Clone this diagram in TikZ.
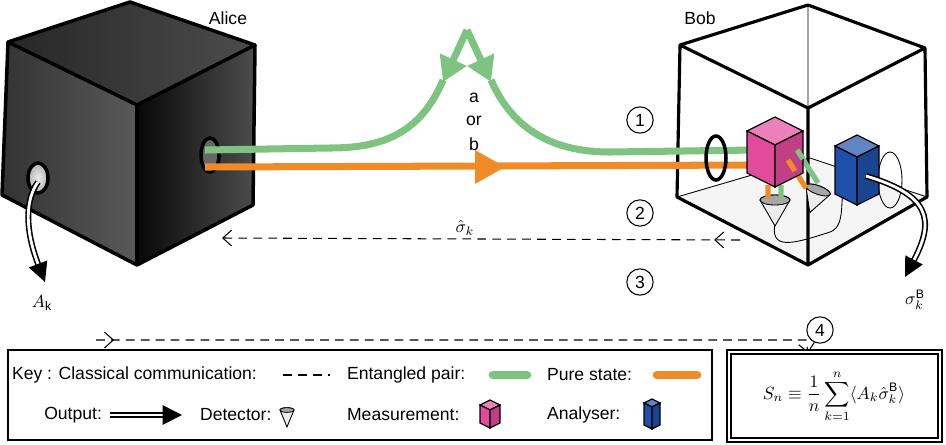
\documentclass[tikz,border=0pt]{standalone}
\usepackage{amsmath,amssymb}
\usepackage{fontspec}
\setsansfont{Liberation Sans}
\usetikzlibrary{arrows.meta,decorations.markings}
\definecolor{entg}{RGB}{126,196,128}
\definecolor{pureo}{RGB}{240,140,40}
\definecolor{pinkm}{RGB}{226,74,156}
\definecolor{bluea}{RGB}{30,80,170}
\newcommand{\isobox}[4]{%
  \begin{scope}[shift={#1}]
    \filldraw[fill=#4!70!white, draw=black, line width=0.7pt] (-#2,-#3/2) -- (0,-#3/2-#2/2) -- (#2,-#3/2) -- (0,-#3/2+#2/2) -- cycle;
    \filldraw[fill=#4, draw=black, line width=0.7pt] (-#2,-#3/2) -- (0,-#3/2+#2/2) -- (0,#3/2+#2/2) -- (-#2,#3/2) -- cycle;
    \filldraw[fill=#4!85!black, draw=black, line width=0.7pt] (#2,-#3/2) -- (0,-#3/2+#2/2) -- (0,#3/2+#2/2) -- (#2,#3/2) -- cycle;
  \end{scope}}
\newcommand{\conedet}[3]{%
  \begin{scope}[shift={#1}]
    \filldraw[fill=gray!15, draw=black, line width=0.5pt] (-#2,0) -- (0,#3) -- (#2,0) arc (0:-180:#2 and #2/3);
    \filldraw[fill=gray!70, draw=black, line width=0.5pt] (0,0) ellipse ({#2} and {#2/3});
  \end{scope}}
\tikzset{
  label/.style={font=\sffamily\fontsize{10}{12}\selectfont, inner sep=1pt},
  beamG/.style={line width=4pt, color=entg},
  beamO/.style={line width=4pt, color=pureo},
  classical/.style={dashed, line width=0.6pt, dash pattern=on 5pt off 3.5pt},
  output/.style={double=white, double distance=1.6pt, line width=0.9pt, -{Triangle[length=11pt,width=11pt]}},
  stepnum/.style={circle, draw, line width=0.6pt, minimum size=15pt, inner sep=0pt, font=\sffamily\fontsize{10}{12}\selectfont},
  tipmark/.style={postaction={decorate, decoration={markings, mark=at position #1 with {\arrow{Straight Barb[length=5pt,width=9pt]}}}}}
}
\begin{document}
\begin{tikzpicture}[x=0.02cm, y=-0.02cm]
  \useasboundingbox (0,0) rectangle (946,444);
  % Alice
  \shade[left color=black!80, right color=black!65] (8,42) -- (137,105) -- (137,265) -- (2,195) -- cycle;
  \shade[left color=black!97, right color=black!70] (137,105) -- (255,45) -- (253,205) -- (137,265) -- cycle;
  \shade[left color=black!85, right color=black!70] (8,42) -- (130,2) -- (255,45) -- (137,105) -- cycle;
  \draw[line width=2pt, line join=round] (8,42) -- (130,2) -- (255,45) -- (253,205) -- (137,265) -- (2,195) -- cycle
    (8,42) -- (137,105) -- (255,45) (137,105) -- (137,265);
  \shade[inner color=gray!15, outer color=gray!60] (38,178) ellipse (10 and 15);
  \draw[line width=2pt] (38,178) ellipse (10 and 15);
  \filldraw[fill=black!60, draw=black, line width=2pt] (210,155) ellipse (9 and 17);
  \node[label] (alice) at (228,18) {Alice};
  % Bob
  \fill[gray!8] (677,197) -- (810,158) -- (927,197) -- (808,265) -- cycle;
  \draw[line width=0.5pt] (677,197) -- (810,158) -- (927,197) (808,5) -- (808,108);
  \draw[line width=1.8pt, line join=round] (680,45) -- (808,5) -- (925,48) -- (927,197) -- (808,265) -- (677,197) -- cycle
    (680,45) -- (808,108) -- (925,48) (808,108) -- (808,265);
  \node[label] (bob) at (700,18) {Bob};
  % beams
  \coordinate (apex) at (467,30);
  \draw[beamG] (443,80) .. controls (420,135) and (380,148) .. (330,148) -- (205,150);
  \draw[beamG] (491,80) .. controls (515,135) and (560,152) .. (610,152) -- (755,150);
  \draw[beamG, -{Triangle[length=14pt,width=16pt]}] (apex) -- (443,82);
  \draw[beamG, -{Triangle[length=14pt,width=16pt]}] (apex) -- (491,82);
  \draw[beamO] (205,167) -- (762,165);
  \fill[pureo] (475,150) -- (505,167) -- (475,184) -- cycle;
  \node[label] (a) at (474,98) {a};
  \node[label] (or) at (474,121) {or};
  \node[label] (b) at (474,144) {b};
  \draw[line width=2pt] (716,158) ellipse (10 and 22);
  % Bob's devices
  \draw[line width=0.5pt] (775,222) .. controls (770,250) and (790,245) .. (830,232)
    .. controls (850,225) and (835,185) .. (850,178) .. controls (860,175) and (860,190) .. (857,205);
  \draw[line width=0.5pt] (890,180) ellipse (12 and 28);
  \conedet{(775,200)}{15}{26}
  \begin{scope}[rotate around={-20:(818,190)}]
    \conedet{(818,190)}{13}{24}
  \end{scope}
  \draw[line width=3pt, pureo] (768,185) -- (768,198) (788,160) -- (806,188);
  \draw[line width=3pt, entg] (781,185) -- (781,198) (797,150) -- (818,183);
  \isobox{(775,152)}{28}{42}{pinkm}
  \draw[line width=3pt, pureo] (788,160) -- (795,171);
  \draw[line width=3pt, entg] (797,150) -- (803,159);
  \isobox{(857,170)}{22}{48}{bluea}
  % outputs
  \draw[output] (38,182) .. controls (25,200) and (25,230) .. (45,282);
  \node[label] (ak) at (42,303) {$A_{\mathsf{k}}$};
  \draw[output] (866,176) .. controls (930,195) and (935,220) .. (905,277);
  \node[label] (sigb) at (915,300) {$\sigma_k^{\mathsf{B}}$};
  % classical communication
  \coordinate (c2a) at (740,240);
  \coordinate (c2b) at (222,238);
  \draw[classical, tipmark=0.05, -{Straight Barb[length=5pt,width=9pt]}] (c2a) -- (c2b);
  \node[label] (sighat) at (465,228) {$\hat{\sigma}_k$};
  \coordinate (c3a) at (96,340);
  \coordinate (c3b) at (808,353);
  \draw[classical, tipmark={0.025}, -{Straight Barb[length=5pt,width=9pt]}] (c3a) -- (806,340) -- (c3b);
  \node[stepnum] (n1) at (640,120) {1};
  \node[stepnum] (n2) at (640,213) {2};
  \node[stepnum] (n3) at (640,282) {3};
  \node[stepnum] (n4) at (820,330) {4};
  % key
  \draw[line width=0.9pt] (8,350) rectangle (712,440);
  \node[label, anchor=west] (key) at (10,375) {Key : Classical communication:};
  \draw[classical] (283,375) -- (330,375);
  \node[label, anchor=west] (ent) at (345,375) {Entangled pair:};
  \draw[beamG, line width=5pt, line cap=round] (493,375) -- (527,375);
  \node[label, anchor=west] (pure) at (545,375) {Pure state:};
  \draw[beamO, line width=5pt, line cap=round] (657,375) -- (697,375);
  \node[label, anchor=east] (out) at (104,415) {Output:};
  \draw[output] (110,415) -- (182,415);
  \node[label, anchor=west] (det) at (198,415) {Detector:};
  \conedet{(287,410)}{7}{17}
  \node[label, anchor=west] (meas) at (345,415) {Measurement:};
  \isobox{(490,414)}{10}{18}{pinkm}
  \node[label, anchor=west] (anal) at (545,415) {Analyser:};
  \isobox{(652,414)}{8}{22}{bluea}
  % formula
  \draw[line width=0.9pt, double, double distance=1.5pt] (729,352) rectangle (940,440);
  \node (sn) at (834,396) {$S_n\equiv\dfrac{1}{n}\displaystyle\sum_{k=1}^{n}\langle A_k\hat{\sigma}_k^{\mathsf{B}}\rangle$};
\end{tikzpicture}
\end{document}
